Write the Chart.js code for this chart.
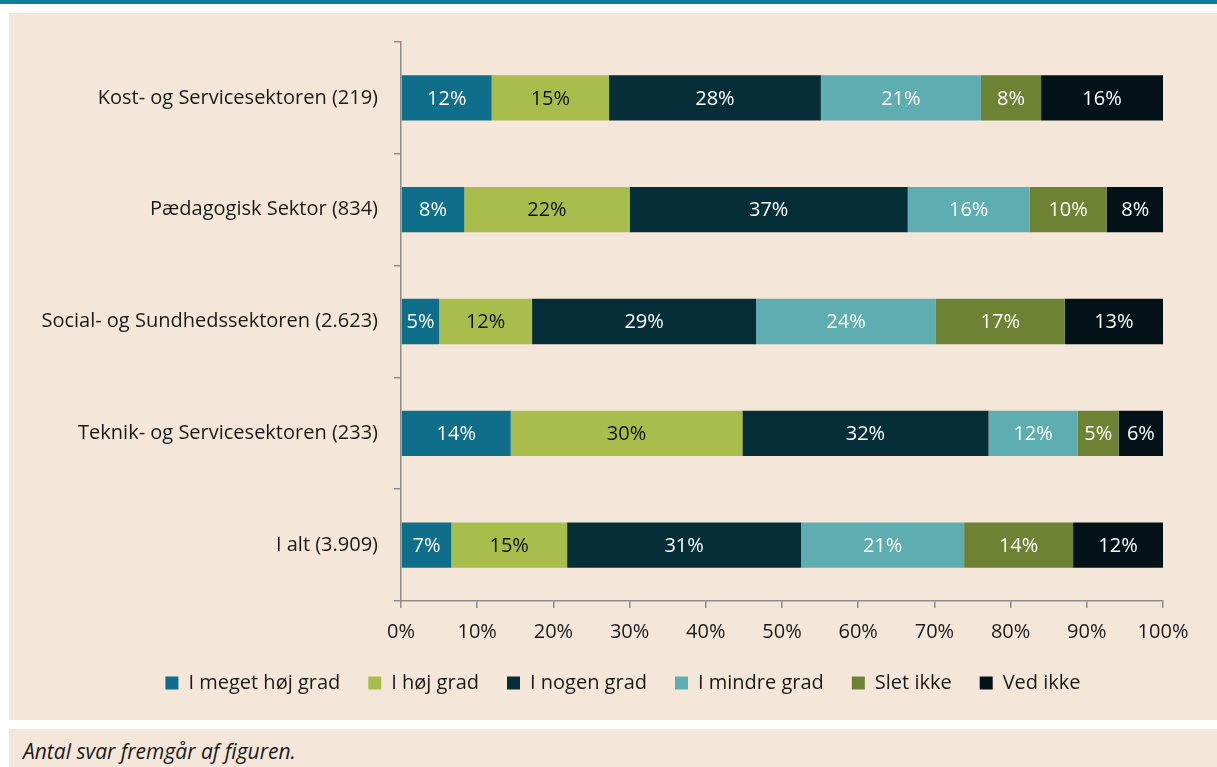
<!DOCTYPE html>
<html><head><meta charset="utf-8">
<script src="https://cdn.jsdelivr.net/npm/chart.js@4"></script>
<style>
html,body{margin:0;padding:0;background:#fff;width:1217px;height:767px;overflow:hidden;font-family:"Open Sans",sans-serif;}
#topbar{position:absolute;left:0;top:0;width:1217px;height:4px;background:#0f7e9b;}
#panel{position:absolute;left:9px;top:13px;width:1208px;height:707px;background:#f4e7da;}
#footer{position:absolute;left:9px;top:729px;width:1208px;height:38px;background:#f4e7da;}
#footer span{position:absolute;left:14px;top:8px;font-style:italic;font-size:21px;line-height:28px;color:#1a1a1a;}
canvas{position:absolute;left:0;top:0;}
</style></head>
<body>
<div id="topbar"></div>
<div id="panel"><canvas id="c" width="1208" height="707"></canvas></div>
<div id="footer"><span>Antal svar fremgår af figuren.</span></div>
<script>
const categories = ["Kost- og Servicesektoren (219)","Pædagogisk Sektor (834)","Social- og Sundhedssektoren (2.623)","Teknik- og Servicesektoren (233)","I alt (3.909)"];
const seriesNames = ["I meget høj grad","I høj grad","I nogen grad","I mindre grad","Slet ikke","Ved ikke"];
const meget = [11.9, 8.3, 5.0, 14.4, 6.6];
const hoej = [15.4, 21.7, 12.2, 30.4, 15.2];
const nogen = [27.8, 36.5, 29.4, 32.3, 30.7];
const mindre = [21.0, 16.0, 23.6, 11.7, 21.4];
const slet = [7.9, 10.1, 16.9, 5.4, 14.3];
const vedIkke = [16.0, 7.5, 12.9, 5.8, 11.8];
const xTicks = [0,10,20,30,40,50,60,70,80,90,100];

const colors = ["#0f6f8a","#a8bd4c","#062e39","#5eadb1","#6e8233","#031219"];
const labelColors = ["#ffffff","#111111","#ffffff","#ffffff","#ffffff","#ffffff"];
const seriesData = [meget,hoej,nogen,mindre,slet,vedIkke];
const FONT = "'Open Sans', sans-serif";

const barLabels = {
  id:'barLabels',
  afterDatasetsDraw(chart){
    const ctx = chart.ctx;
    ctx.save();
    ctx.font = "20px " + FONT;
    ctx.textAlign = 'center';
    ctx.textBaseline = 'middle';
    chart.data.datasets.forEach((ds,i)=>{
      const meta = chart.getDatasetMeta(i);
      meta.data.forEach((el,j)=>{
        const p = el.getProps(['x','y','base'],true);
        ctx.fillStyle = labelColors[i];
        ctx.fillText(Math.round(ds.data[j]) + '%', (p.x+p.base)/2, p.y+1);
      });
    });
    ctx.restore();
  }
};

new Chart(document.getElementById('c'),{
  type:'bar',
  data:{
    labels:categories,
    datasets:seriesNames.map((n,i)=>({label:n,data:seriesData[i],backgroundColor:colors[i],borderWidth:0,barPercentage:0.405,categoryPercentage:1}))
  },
  options:{
    indexAxis:'y',
    responsive:false,
    animation:false,
    devicePixelRatio:1,
    layout:{padding:{top:29,right:0,left:20,bottom:17}},
    scales:{
      x:{
        stacked:true,min:0,max:100,
        afterBuildTicks(s){ s.ticks = xTicks.map(v=>({value:v})); },
        afterFit(s){ s.height = 44; },
        grid:{drawOnChartArea:false,drawTicks:true,tickLength:7,color:'#8c8c8c',lineWidth:1.5},
        border:{color:'#8c8c8c',width:1.5},
        ticks:{padding:12,color:'#1a1a1a',font:{family:FONT,size:20},callback:v=>v+'%',maxRotation:0}
      },
      y:{
        stacked:true,
        afterFit(s){ s.width = 372; },
        grid:{offset:true,drawOnChartArea:false,drawTicks:true,tickLength:7,color:'#8c8c8c',lineWidth:1.5},
        border:{color:'#8c8c8c',width:1.5},
        ticks:{padding:16,color:'#1a1a1a',font:{family:FONT,size:20}}
      },
      yPad:{
        type:'category',axis:'y',position:'right',labels:categories,
        afterFit(s){ s.width = 54; },
        grid:{display:false,drawTicks:false},
        border:{display:false},
        ticks:{display:false}
      }
    },
    plugins:{
      legend:{position:'bottom',labels:{boxWidth:13,boxHeight:13,padding:28,color:'#1a1a1a',font:{family:FONT,size:20}}},
      tooltip:{enabled:false}
    }
  },
  plugins:[barLabels]
});
</script>
</body></html>
